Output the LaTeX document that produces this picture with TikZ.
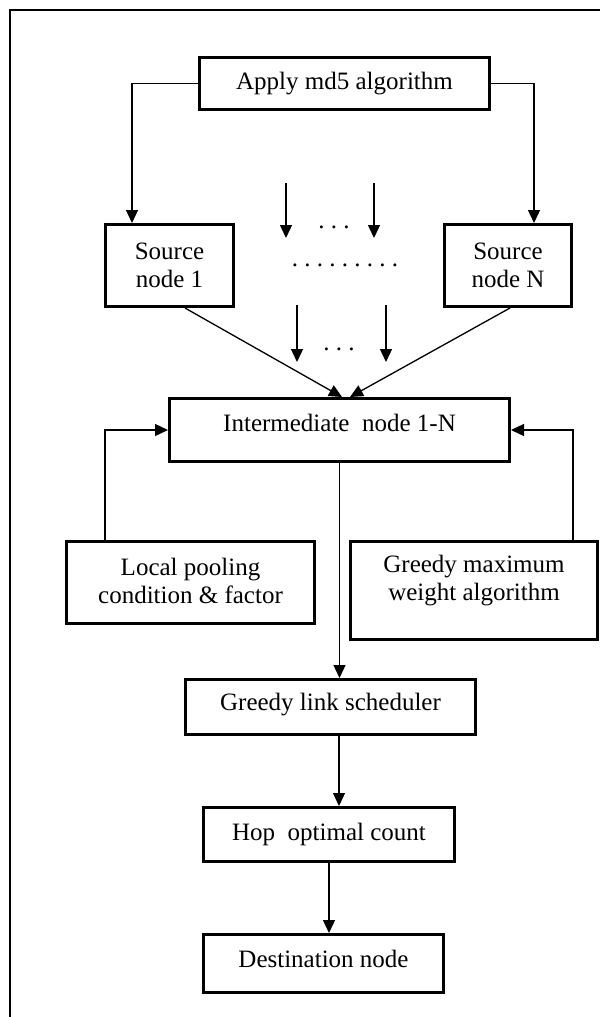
\documentclass[tikz,border=0pt]{standalone}
\usepackage{fontspec}
\setmainfont{Liberation Serif}
\usetikzlibrary{arrows.meta}
\begin{document}
\begin{tikzpicture}[x=1pt,y=-1pt,
  box/.style={draw, line width=3pt, inner sep=0pt, align=center,
              font=\fontsize{25}{28}\selectfont},
  txt/.style={font=\fontsize{25}{28}\selectfont, inner sep=0pt, align=center},
  conn/.style={line width=1.3pt, -{Triangle[length=13pt,width=12pt]}},
  frame/.style={line width=1.5pt}]
\useasboundingbox (0,0) rectangle (600,1017);

% page frame (top and left rules)
\draw[frame] (600,10) -- (10,10) -- (10,1017);

% boxes
\node[box, minimum width=290pt, minimum height=52pt] (md5) at (344.5,83.5) {Apply md5 algorithm};
\node[box, minimum width=128pt, minimum height=82pt] (src1) at (169.5,265.5) {Source\\node 1};
\node[box, minimum width=127pt, minimum height=82pt] (srcN) at (508,265.5) {Source\\node N};
\node[box, minimum width=340pt, minimum height=63pt,
      label={[txt,yshift=7pt]center:Intermediate\ \ node 1-N}] (inter) at (339.5,430) {};
\node[box, minimum width=248pt, minimum height=82pt,
      label={[txt,yshift=1.5pt]center:Local pooling\\condition \& factor}] (pool) at (190.5,582.5) {};
\node[box, minimum width=247pt, minimum height=98pt,
      label={[txt,yshift=9.5pt]center:Greedy maximum\\weight algorithm}] (gmax) at (474,590.5) {};
\node[box, minimum width=290pt, minimum height=55pt,
      label={[txt,yshift=2pt]center:Greedy link scheduler}] (glink) at (330.5,707) {};
\node[box, minimum width=251pt, minimum height=54pt] (hop) at (329,834.5) {Hop\ \ optimal count};
\node[box, minimum width=240pt, minimum height=58pt,
      label={[txt,yshift=4.5pt]center:Destination node}] (dest) at (323.5,963.5) {};

% elision marks between the source nodes
\node[txt, anchor=base] (dotsA) at (334,228) {.~.~.};
\node[txt, anchor=base] (dotsB) at (345,266) {.~.~.~.~.~.~.~.~.};
\node[txt, anchor=base] (dotsC) at (339,350) {.~.~.};

% free-standing arrows of the elided sources
\coordinate (u1s) at (286,183); \coordinate (u1e) at (286,238);
\coordinate (u2s) at (374,183); \coordinate (u2e) at (374,238);
\coordinate (l1s) at (297,305); \coordinate (l1e) at (297,362);
\coordinate (l2s) at (386,305); \coordinate (l2e) at (386,362);
\draw[conn] (u1s) -- (u1e);
\draw[conn] (u2s) -- (u2e);
\draw[conn] (l1s) -- (l1e);
\draw[conn] (l2s) -- (l2e);

% md5 to the sources
\coordinate (xL) at (132,0);
\coordinate (xR) at (534,0);
\draw[conn] (md5.west) -| (xL |- src1.north);
\draw[conn] (md5.east) -| (xR |- srcN.north);

% sources to intermediate node
\draw[conn] ([xshift=15.5pt]src1.south) -- ([xshift=2.5pt]inter.north);
\draw[conn] ([xshift=2pt]srcN.south) -- ([xshift=10.5pt]inter.north);

% feedback into the intermediate node
\draw[conn] ([xshift=-85.5pt]pool.north) |- (inter.west);
\draw[conn] ([xshift=99pt]gmax.north) |- (inter.east);

% main chain
\draw[conn] (inter.south) -- (inter.south |- glink.north);
\draw[conn] ([xshift=8.5pt]glink.south) -- ([xshift=8.5pt]glink.south |- hop.north);
\draw[conn] (hop.south) -- (hop.south |- dest.north);
\end{tikzpicture}
\end{document}
